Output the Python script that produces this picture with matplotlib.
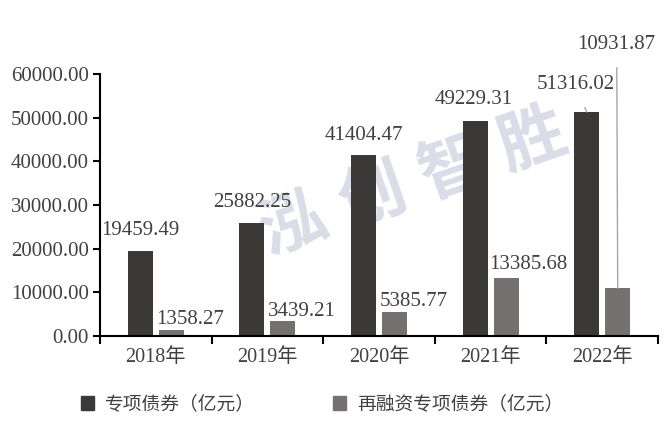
import numpy as np
import matplotlib
matplotlib.use("Agg")
import matplotlib.pyplot as plt

# data
years = ["2018年", "2019年", "2020年", "2021年", "2022年"]
special_bonds = [19459.49, 25882.25, 41404.47, 49229.31, 51316.02]
refinance_bonds = [1358.27, 3439.21, 5385.77, 13385.68, 10931.87]
series_names = ["专项债券（亿元）", "再融资专项债券（亿元）"]
y_ticks = [0, 10000, 20000, 30000, 40000, 50000, 60000]

# label offsets (pixels) from each bar top
dark_offsets = [(0, 21), (0, 20), (0, 20), (-1, 22), (-11, 27)]
gray_offsets = [(19, 11), (19, 9), (19, 11), (22, 13), (-1, 244)]

DARK = "#3b3838"
GRAY = "#767171"
TXT = "#404040"
NUM_FONT = ["Liberation Serif", "Noto Sans CJK SC"]
CJK_FONT = ["Noto Sans CJK SC", "DejaVu Sans"]

fig = plt.figure(figsize=(6.65, 4.32), dpi=100)
ax = fig.add_axes([100 / 665, 96 / 432, 558 / 665, 262 / 432])

x = np.arange(len(years))
w = 0.224
off = 0.139
b1 = ax.bar(x - off, special_bonds, w, color=DARK, zorder=2)
b2 = ax.bar(x + off, refinance_bonds, w, color=GRAY, zorder=2)

ax.set_xlim(-0.5, len(years) - 0.5)
ax.set_ylim(0, 60000)
ax.set_yticks(y_ticks)
ax.set_yticklabels([f"{v:.2f}" for v in y_ticks], family=NUM_FONT,
                   fontsize=15, color=TXT)
ax.set_xticks(x)
ax.set_xticklabels(years, family=NUM_FONT, fontsize=14.5, color=TXT)
ax.set_xticks(np.arange(len(years) + 1) - 0.5, minor=True)
ax.tick_params(axis="x", which="major", length=0, pad=9)
ax.tick_params(axis="x", which="minor", length=6, width=1.5, direction="out")
ax.tick_params(axis="y", length=5, width=1.5, direction="out", pad=3)

for s in ["top", "right"]:
    ax.spines[s].set_visible(False)
for s in ["left", "bottom"]:
    ax.spines[s].set_linewidth(1.5)
    ax.spines[s].set_color("black")

def put_labels(bars, values, offsets, leaders):
    for bar, v, (dx, dy), lead in zip(bars, values, offsets, leaders):
        xc = bar.get_x() + bar.get_width() / 2
        ap = None
        if lead:
            ap = dict(arrowstyle="-", color="#a6a6a6", lw=1, shrinkA=8, shrinkB=0)
        ax.annotate(f"{v:.2f}", xy=(xc, v), xytext=(dx, dy),
                    textcoords="offset pixels", ha="center", va="center",
                    family=NUM_FONT, fontsize=15, color=TXT,
                    arrowprops=ap, zorder=4, annotation_clip=False)

put_labels(b1, special_bonds, dark_offsets, [False] * 4 + [True])
put_labels(b2, refinance_bonds, gray_offsets, [False] * 4 + [True])

# watermark, behind the bars and labels
wm = "泓创智胜"
for i, ch in enumerate(wm):
    px = 293 + i * 80
    py = 432 - (225 - i * 28)
    ax.text(px / 665, py / 432, ch, transform=fig.transFigure, family=CJK_FONT,
            fontsize=48, fontweight="bold", color="#dadde7", rotation=19,
            ha="center", va="center", zorder=1, clip_on=False)

# legend
handles = [plt.Rectangle((0, 0), 1, 1, color=DARK),
           plt.Rectangle((0, 0), 1, 1, color=GRAY)]
fig.legend(handles, series_names, loc="center", bbox_to_anchor=(322 / 665, 1 - 404 / 432),
           ncol=2, frameon=False, prop={"family": CJK_FONT, "size": 13.5},
           handlelength=0.7, handleheight=0.7, handletextpad=0.6,
           columnspacing=4.15, labelcolor=TXT)

fig.savefig("out.png", dpi=100)
